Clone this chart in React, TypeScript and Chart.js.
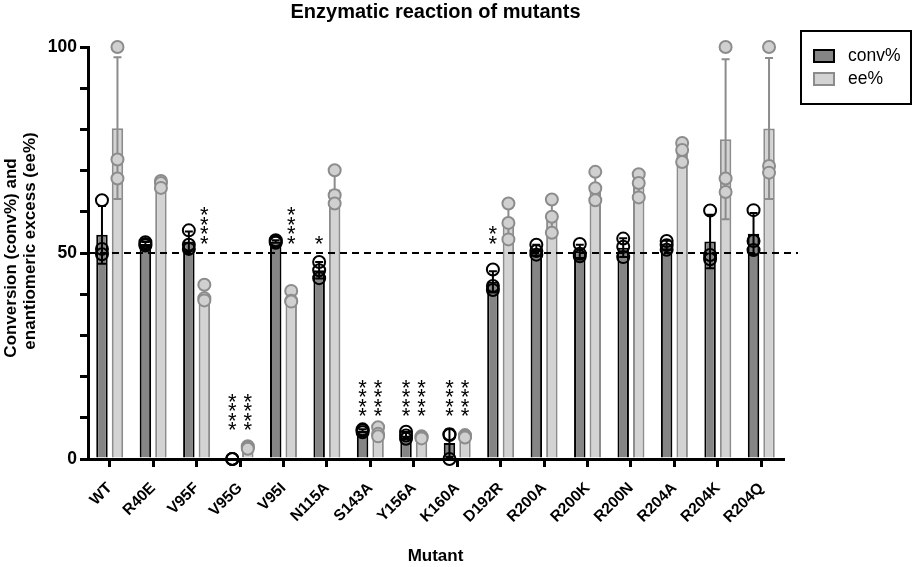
import React, { useEffect, useRef } from "react";
import { Chart, registerables } from "chart.js";

Chart.register(...registerables);

const categories = ["WT", "R40E", "V95F", "V95G", "V95I", "N115A", "S143A", "Y156A", "K160A", "D192R", "R200A", "R200K", "R200N", "R204A", "R204K", "R204Q"];

const convMean = [54.4, 52.2, 52.8, 0, 52.8, 45.8, 6.9, 5.7, 3.9, 43.0, 50.7, 50.4, 51.3, 51.9, 52.8, 54.7];
const convSd = [7.0, 0.5, 2.4, 0, 0.3, 2.0, 0.35, 0.85, 3.4, 2.6, 1.3, 1.6, 2.3, 1.05, 6.5, 5.0];
const eeMean = [80.3, 66.8, 39.9, 2.8, 39.1, 65.4, 6.4, 5.3, 5.5, 57.5, 58.9, 66.1, 66.5, 74.6, 77.6, 80.2];
const eeSd = [17.2, 0.9, 2.1, 0.3, 1.5, 4.2, 1.1, 0.25, 0.3, 4.4, 4.0, 3.5, 2.8, 2.3, 19.4, 17.1];

const convPoints = [
  [62.8, 51.0, 49.7], [52.6, 52.2, 51.8], [55.5, 52.0, 51.0], [0, 0, 0],
  [53.1, 52.8, 52.5], [47.8, 45.8, 43.9], [7.2, 6.9, 6.5], [6.6, 5.7, 4.9],
  [6.0, 5.8, 0], [46.0, 42.0, 41.0], [52.0, 50.5, 49.6], [52.2, 49.8, 49.2],
  [53.5, 51.5, 49.0], [52.9, 51.9, 50.8], [60.3, 49.5, 48.5], [60.4, 52.9, 50.7],
];
const eePoints = [
  [100, 72.7, 68.1], [67.5, 67.0, 65.8], [42.3, 39.0, 38.5], [3.1, 2.8, 2.5],
  [40.8, 38.4, 38.2], [70.1, 64.0, 62.0], [7.7, 6.1, 5.5], [5.5, 5.3, 5.0],
  [5.8, 5.5, 5.2], [62.0, 57.3, 53.3], [63.0, 58.8, 54.9], [69.7, 65.7, 62.8],
  [69.1, 67.0, 63.5], [76.7, 75.0, 72.1], [100, 68.1, 64.8], [100, 71.1, 69.5],
];

const convStars = ["", "", "", "****", "", "*", "****", "****", "****", "**", "", "", "", "", "", ""];
const eeStars = ["", "", "****", "****", "****", "", "****", "****", "****", "", "", "", "", "", "", ""];
const starLevel = [0, 0, 53.6, 8.4, 53.6, 53.6, 11.8, 11.8, 11.8, 53.6, 0, 0, 0, 0, 0, 0];

const yLabelled = [0, 50, 100];
const referenceLine = 50;
const seriesNames = ["conv%", "ee%"];
const titleText = "Enzymatic reaction of mutants";
const yTitle = ["Conversion (conv%) and", "enantiomeric excess (ee%)"];
const xTitle = "Mutant";

const FONT = "'Liberation Sans', Arial, Helvetica, sans-serif";
const DARK = "#858585";
const LIGHT = "#d3d3d3";
const LIGHT_EDGE = "#8c8c8c";

const overlayPlugin = {
  id: "overlay",
  afterDatasetsDraw(chart: any) {
    const ctx = chart.ctx;
    const y = chart.scales.y;
    const area = chart.chartArea;
    ctx.save();
    ctx.beginPath();
    ctx.setLineDash([7, 5]);
    ctx.lineWidth = 2;
    ctx.strokeStyle = "#000";
    const ry = y.getPixelForValue(referenceLine);
    ctx.moveTo(area.left, ry);
    ctx.lineTo(area.right + 15, ry);
    ctx.stroke();
    ctx.setLineDash([]);

    const series = [
      { mean: convMean, sd: convSd, pts: convPoints, line: "#000", fill: "rgba(0,0,0,0)", stars: convStars },
      { mean: eeMean, sd: eeSd, pts: eePoints, line: LIGHT_EDGE, fill: "#d0d0d0", stars: eeStars },
    ];
    series.forEach((s, di) => {
      const meta = chart.getDatasetMeta(di);
      meta.data.forEach((bar: any, i: number) => {
        const x = bar.x;
        if (s.sd[i] > 0) {
          const top = y.getPixelForValue(s.mean[i] + s.sd[i]);
          const bot = y.getPixelForValue(Math.max(0, s.mean[i] - s.sd[i]));
          ctx.beginPath();
          ctx.lineWidth = 2;
          ctx.strokeStyle = s.line;
          ctx.moveTo(x, top);
          ctx.lineTo(x, bot);
          ctx.moveTo(x - 4, top);
          ctx.lineTo(x + 4, top);
          ctx.moveTo(x - 4, bot);
          ctx.lineTo(x + 4, bot);
          ctx.stroke();
        }
        s.pts[i].forEach((v: number) => {
          ctx.beginPath();
          ctx.arc(x, y.getPixelForValue(v), 6, 0, Math.PI * 2);
          ctx.fillStyle = s.fill;
          ctx.fill();
          ctx.lineWidth = 2;
          ctx.strokeStyle = s.line;
          ctx.stroke();
        });
        const st = s.stars[i];
        if (st) {
          const fs = 22;
          ctx.font = `${fs}px ${FONT}`;
          ctx.fillStyle = "#000";
          ctx.textAlign = "center";
          ctx.textBaseline = "alphabetic";
          const base = y.getPixelForValue(starLevel[i]);
          for (let k = 0; k < st.length; k++) {
            const cy = base - k * 9.5;
            ctx.fillText("*", x, cy + 0.58 * fs);
          }
        }
      });
    });
    ctx.restore();
  },
  afterDraw(chart: any) {
    const ctx = chart.ctx;
    const area = chart.chartArea;
    ctx.save();
    ctx.fillStyle = "#000";
    ctx.font = `bold 17px ${FONT}`;
    ctx.textAlign = "center";
    ctx.textBaseline = "middle";
    const cy = (area.top + area.bottom) / 2;
    const lines = [
      { x: 11, y: cy + 5 },
      { x: 30, y: cy - 12 },
    ];
    lines.forEach((l, i) => {
      ctx.save();
      ctx.translate(l.x, l.y);
      ctx.rotate(-Math.PI / 2);
      ctx.fillText(yTitle[i], 0, 0);
      ctx.restore();
    });

    ctx.lineWidth = 2;
    ctx.strokeStyle = "#000";
    ctx.strokeRect(801, 31, 110, 73);
    const rows = [
      { fill: DARK, edge: "#000", y: 56 },
      { fill: LIGHT, edge: LIGHT_EDGE, y: 79 },
    ];
    rows.forEach((r, i) => {
      ctx.fillStyle = r.fill;
      ctx.fillRect(814, r.y - 6, 20, 12);
      ctx.strokeStyle = r.edge;
      ctx.lineWidth = 2;
      ctx.strokeRect(814, r.y - 6, 20, 12);
      ctx.fillStyle = "#000";
      ctx.font = `17.5px ${FONT}`;
      ctx.textAlign = "left";
      ctx.textBaseline = "middle";
      ctx.fillText(seriesNames[i], 848, r.y);
    });
    ctx.restore();
  },
};

export default function App() {
  const ref = useRef<HTMLCanvasElement>(null);
  useEffect(() => {
    if (!ref.current) return;
    const chart = new Chart(ref.current, {
      type: "bar",
      data: {
        labels: categories,
        datasets: [
          {
            label: seriesNames[0],
            data: convMean,
            backgroundColor: DARK,
            borderColor: "#000",
            borderWidth: 2,
            barPercentage: 0.74,
            categoryPercentage: 0.714,
          },
          {
            label: seriesNames[1],
            data: eeMean,
            backgroundColor: LIGHT,
            borderColor: LIGHT_EDGE,
            borderWidth: 2,
            barPercentage: 0.74,
            categoryPercentage: 0.714,
          },
        ],
      },
      options: {
        animation: false,
        responsive: false,
        devicePixelRatio: 1,
        layout: { padding: { left: 0, right: 130, top: 0, bottom: 0 } },
        plugins: {
          legend: { display: false },
          tooltip: { enabled: false },
          title: {
            display: true,
            text: titleText,
            fullSize: false,
            color: "#000",
            font: { family: FONT, size: 20, weight: "bold" },
            padding: { top: 0, bottom: 23 },
          },
        },
        scales: {
          x: {
            offset: true,
            grid: { display: true, drawOnChartArea: false, drawTicks: true, tickLength: 8, lineWidth: 3, color: "#000", offset: false },
            border: { display: true, width: 3, color: "#000" },
            ticks: {
              autoSkip: false,
              maxRotation: 45,
              minRotation: 45,
              padding: 12,
              color: "#000",
              font: { family: FONT, size: 15.5, weight: "bold" },
            },
            title: {
              display: true,
              text: xTitle,
              color: "#000",
              font: { family: FONT, size: 17, weight: "bold" },
              padding: { top: 0, bottom: 0 },
            },
            afterFit: (s: any) => {
              s.height = 108;
            },
          },
          y: {
            min: 0,
            max: 100,
            grid: { display: true, drawOnChartArea: false, drawTicks: true, tickLength: 8, lineWidth: 3, color: "#000" },
            border: { display: true, width: 3, color: "#000" },
            ticks: {
              stepSize: 10,
              padding: 3,
              color: "#000",
              font: { family: FONT, size: 17.5, weight: "bold" },
              callback: (v: any) => (yLabelled.includes(Number(v)) ? String(v) : ""),
            },
            title: { display: false },
            afterFit: (s: any) => {
              s.width = 88;
            },
          },
        },
      },
      plugins: [overlayPlugin],
    });
    return () => chart.destroy();
  }, []);
  return (
    <div style={{ position: "absolute", left: 0, top: 0, width: 913, height: 567, background: "#fff" }}>
      <canvas ref={ref} width={913} height={567} style={{ display: "block", width: 913, height: 567 }} />
    </div>
  );
}
